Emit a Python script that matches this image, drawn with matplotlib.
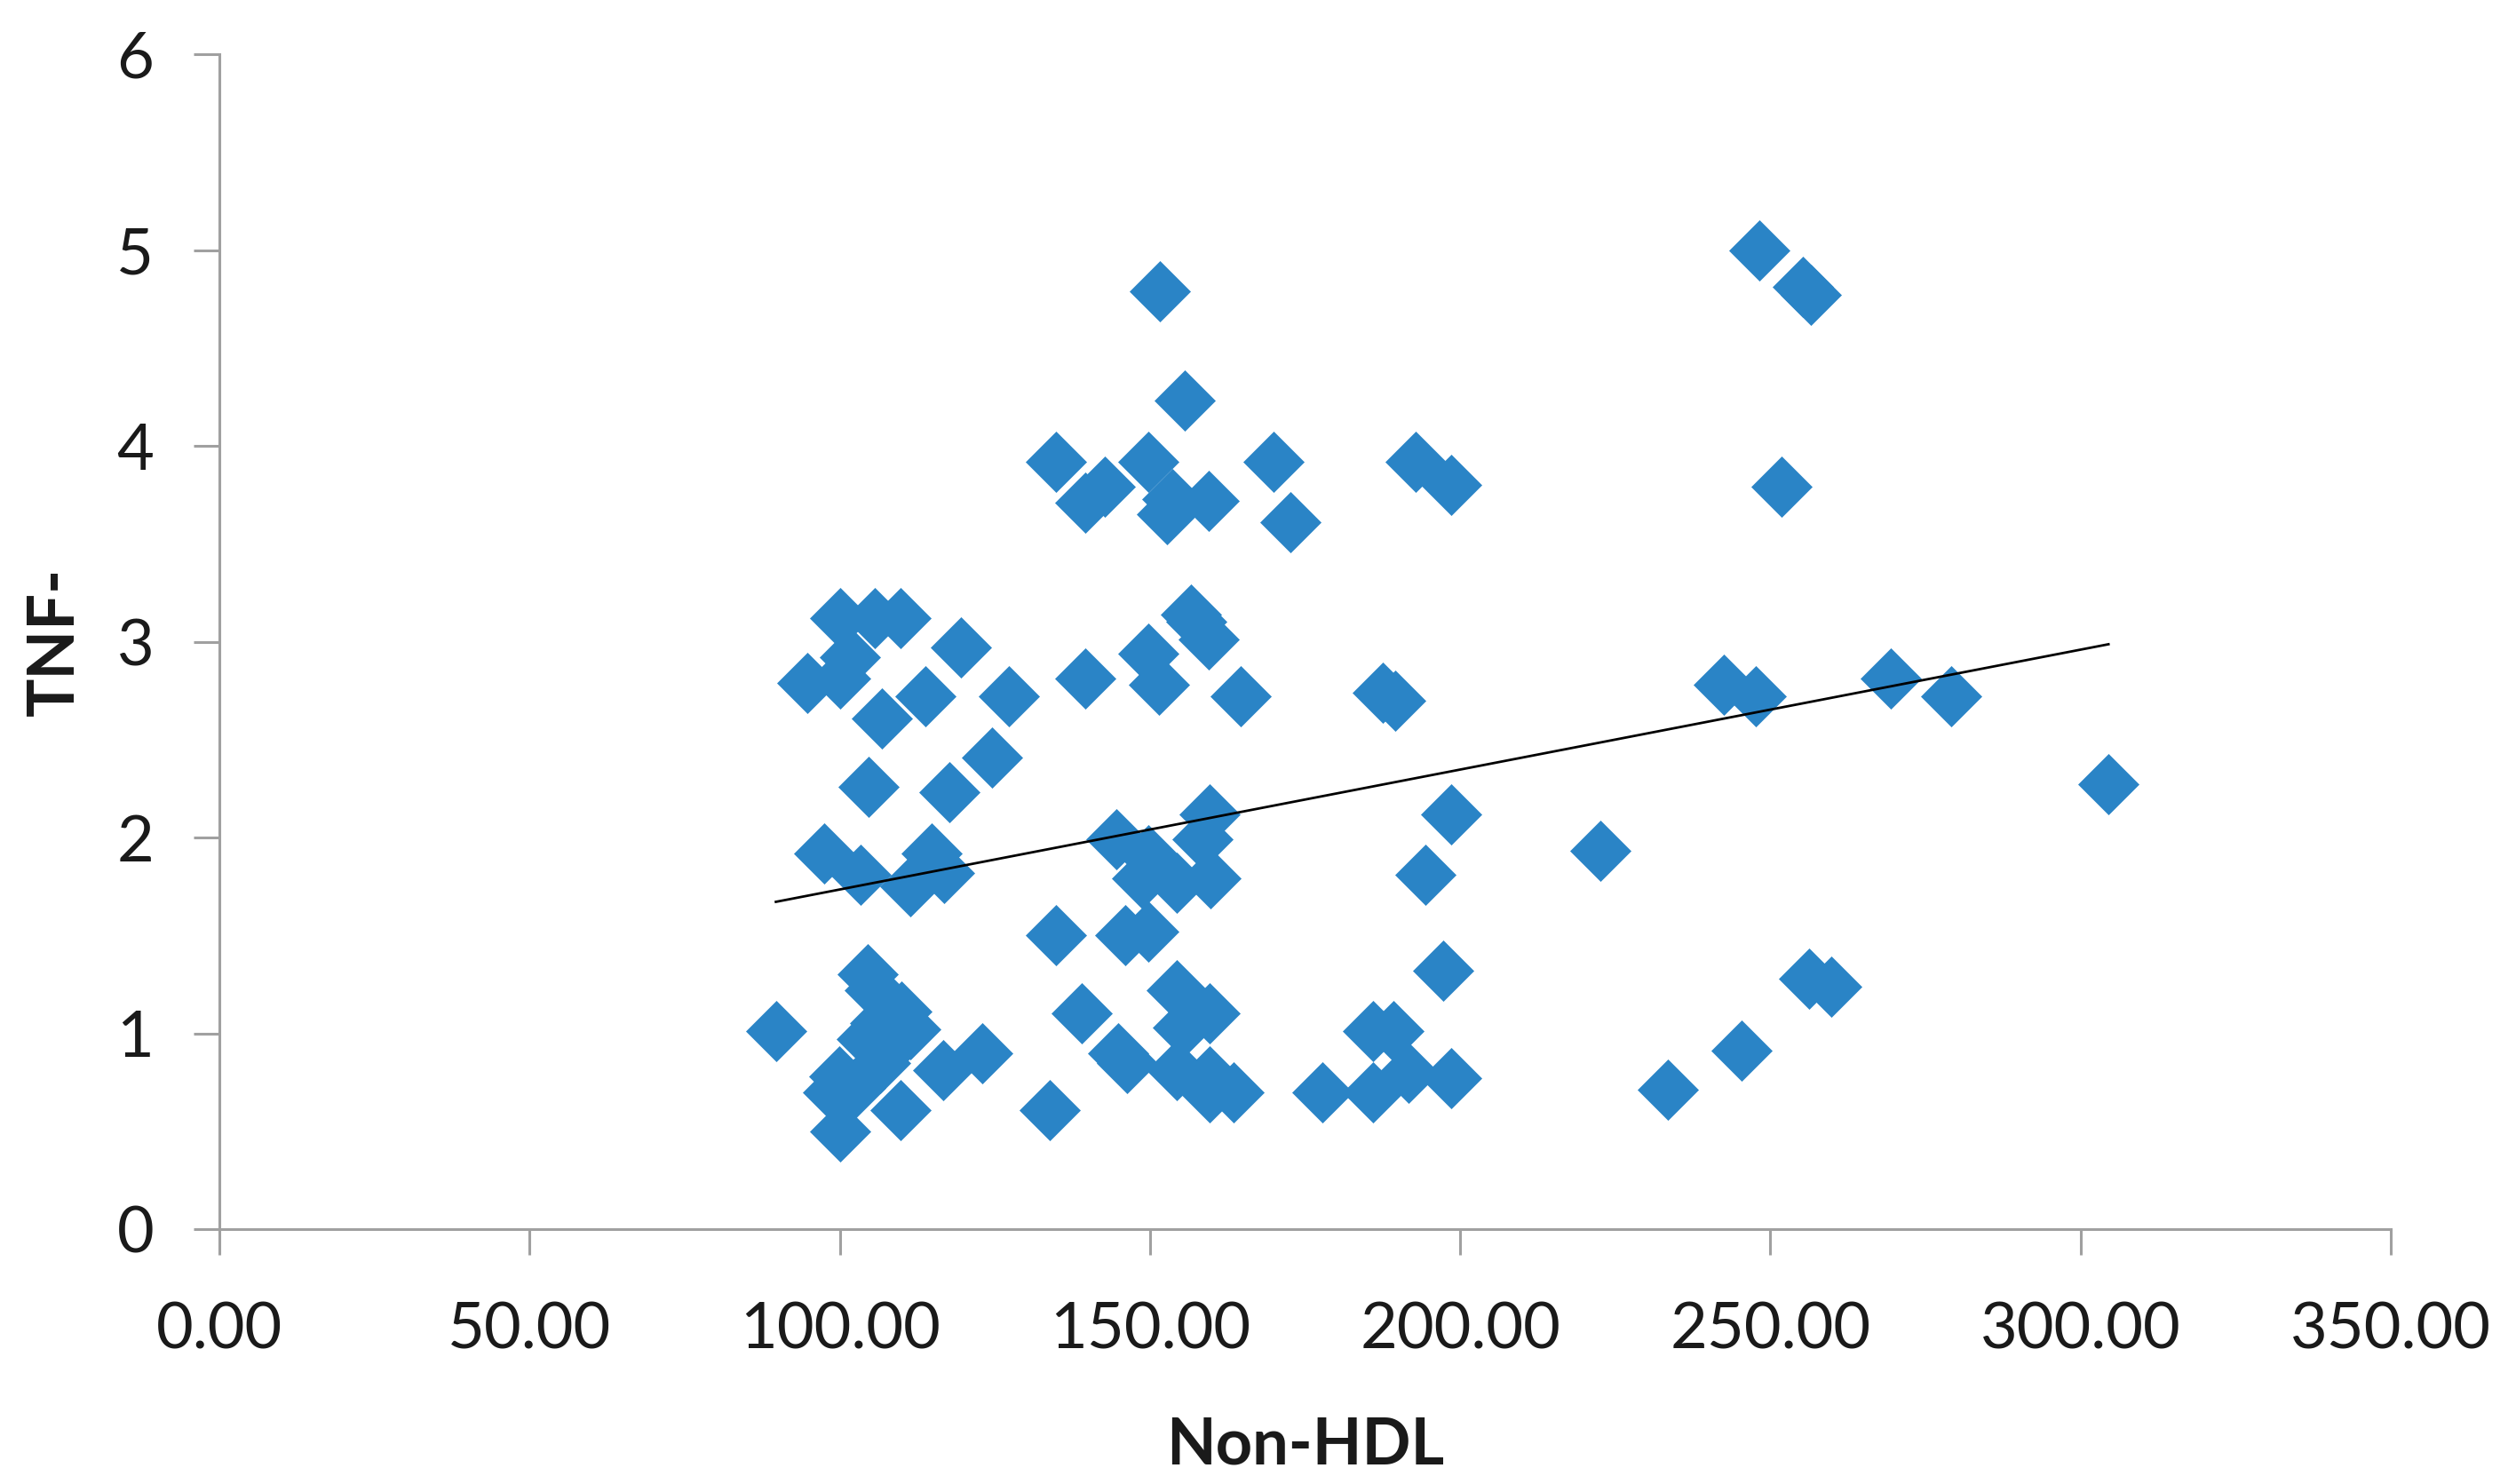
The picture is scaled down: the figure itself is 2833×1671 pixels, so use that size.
import matplotlib
matplotlib.use('Agg')
import matplotlib.pyplot as plt
import numpy as np

# ---- data ----
non_hdl = [
    89.7, 94.8, 97.5, 98.9, 99.9, 100.0, 100.1, 100.1, 101.6, 103.3,
    104.4, 104.5, 104.6, 105.6, 105.6, 106.8, 106.5, 108.0, 109.8, 109.9,
    109.8, 111.4, 111.4, 113.8, 114.8, 116.8, 116.6, 117.7, 119.5, 123.0,
    124.6, 127.2, 102.5, 106.5,
    133.8, 134.9, 134.9, 139.0, 139.5, 139.5, 142.7, 144.6, 144.9, 146.3,
    146.0, 148.8, 149.8, 149.8, 149.8, 149.8, 151.4, 151.6, 152.7, 153.6,
    154.3, 154.3, 154.3, 155.3, 155.6, 156.6, 157.4, 158.4, 159.4, 159.4,
    159.6, 159.6, 159.6, 159.7, 159.6, 163.5, 164.6, 169.9, 172.7,
    177.8, 186.0, 186.0, 189.2, 187.5, 189.5, 191.7, 192.8, 194.4, 197.3,
    198.5, 198.5, 198.6, 222.6, 233.5, 242.5, 245.4, 247.7, 248.2, 251.8,
    255.2, 256.5, 256.2, 259.8, 269.4, 279.2, 304.5,
]
tnf = [
    1.01, 2.79, 1.92, 0.70, 0.78, 0.50, 3.12, 2.81, 2.92, 1.81,
    0.97, 1.30, 2.26, 3.12, 1.22, 2.61, 0.85, 0.92, 3.12, 1.11,
    0.61, 1.02, 1.75, 2.72, 1.92, 1.82, 0.81, 2.23, 2.97, 0.90,
    2.41, 2.72, 0.72, 1.05,
    0.61, 1.50, 3.92, 1.10, 2.81, 3.71, 3.79, 1.99, 0.90, 0.85,
    1.50, 1.79, 1.52, 1.91, 2.94, 3.92, 2.78, 4.79, 3.65, 3.73,
    1.22, 1.77, 0.81, 1.03, 4.23, 3.14, 3.10, 1.99, 3.01, 3.72,
    1.10, 2.12, 0.78, 1.79, 0.70, 0.70, 2.72, 3.92, 3.61,
    0.70, 0.70, 1.01, 1.01, 2.74, 2.70, 0.80, 3.92, 1.81, 1.32,
    0.77, 2.12, 3.80, 1.93, 0.71, 2.78, 0.91, 2.72, 5.00, 3.79,
    4.81, 4.77, 1.28, 1.24, 2.81, 2.72, 2.27,
]
trend_intercept = 1.122
trend_slope = 0.006124

x_ticks = [0, 50, 100, 150, 200, 250, 300, 350]
x_tick_labels = ['0.00', '50.00', '100.00', '150.00', '200.00', '250.00', '300.00', '350.00']
y_ticks = [0, 1, 2, 3, 4, 5, 6]
y_tick_labels = ['0', '1', '2', '3', '4', '5', '6']
x_title = 'Non-HDL'
y_title = 'TNF-'

# ---- styling ----
plt.rcParams['font.family'] = ['Lato', 'DejaVu Sans']
marker_color = '#2A84C6'
axis_color = '#A0A0A0'
text_color = '#1a1a1a'

fig = plt.figure(figsize=(28.33, 16.71), dpi=100)
ax = fig.add_axes([0.08719, 0.17175, 0.86304, 0.79174])

ax.plot(non_hdl, tnf, linestyle='none', marker='D', ms=35,
        color=marker_color, mec=marker_color, mew=0.5, zorder=2)

xs = np.array([min(non_hdl), max(non_hdl)])
ax.plot(xs, trend_intercept + trend_slope * xs, color='black', lw=2, zorder=3)

ax.set_xlim(0, 350)
ax.set_ylim(0, 6)
ax.set_xticks(x_ticks)
ax.set_xticklabels(x_tick_labels)
ax.set_yticks(y_ticks)
ax.set_yticklabels(y_tick_labels)

for s in ['top', 'right']:
    ax.spines[s].set_visible(False)
for s in ['left', 'bottom']:
    ax.spines[s].set_color(axis_color)
    ax.spines[s].set_linewidth(2.2)

ax.tick_params(axis='both', direction='out', length=21, width=2.2,
               color=axis_color, labelsize=52, labelcolor=text_color)
ax.tick_params(axis='x', pad=38)
ax.tick_params(axis='y', pad=32)

ax.set_xlabel(x_title, fontsize=52, fontweight='bold', color=text_color, va='top')
ax.xaxis.set_label_coords(0.5, -0.159)
ax.set_ylabel(y_title, fontsize=52, fontweight='bold', color=text_color, va='center')
ax.yaxis.set_label_coords(-0.0755, 0.5)

fig.savefig('out.png', dpi=100)
